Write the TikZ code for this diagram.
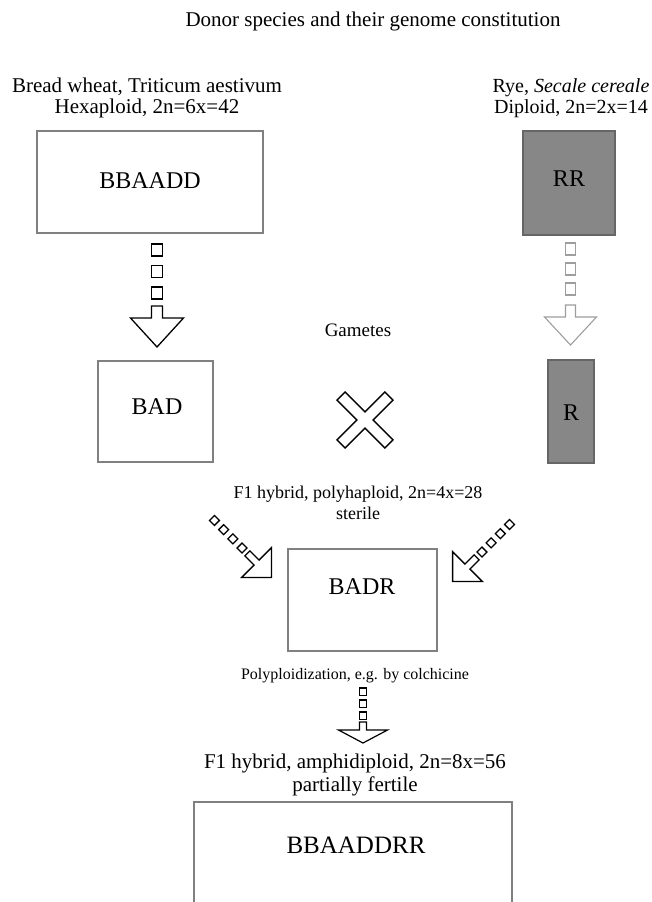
\documentclass[tikz,border=0pt]{standalone}
\usepackage{fontspec}
\setmainfont{Liberation Serif}

% Block arrow with a dotted (square-chain) tail, drawn along local +y from the origin.
% #1 number of squares, #2 square width, #3 square height, #4 square pitch,
% #5 shaft top, #6 head base, #7 tip, #8 head half-width
\newcommand\chainarrow[8]{%
  \foreach \k in {1,...,#1}{%
    \draw ({-#2/2},{(\k-1)*#4}) rectangle ({#2/2},{(\k-1)*#4+#3});
  }
  \draw ({-#2/2},#5) -- ({#2/2},#5) -- ({#2/2},#6) -- (#8,#6) -- (0,#7)
        -- (-#8,#6) -- ({-#2/2},#6) -- cycle;
}

\begin{document}
\begin{tikzpicture}[x=1pt,y=-1pt,
  genbox/.style={draw=black!50, line width=1.1pt, inner sep=0pt},
  graybox/.style={genbox, draw=black!60, fill=black!47},
  txt/.style={inner sep=0pt, anchor=base, align=center, font=\fontsize{#1}{#1}\selectfont},
  arrowline/.style={line width=1.3pt, draw=black, line join=miter},
  palearrow/.style={line width=1.1pt, draw=black!38, line join=miter}]

\useasboundingbox (0,0) rectangle (652,902);
\fill[white] (0,0) rectangle (652,902);
\clip (0,0) rectangle (652,902);

% heading
\node[txt=21] (title) at (373,27) {Donor species and their genome constitution};

% donor species (two-line nodes sit on the baseline of their last line)
\node[txt=21] (wheatname) at (147,113) {Bread wheat, Triticum aestivum\\Hexaploid, 2n=6x=42};
\node[txt=20, font=\fontsize{20}{21}\selectfont] (ryename) at (571,113) {Rye, \textit{Secale cereale}\\Diploid, 2n=2x=14};

\node[genbox, minimum width=226pt, minimum height=102pt] (wheat) at (150,182) {};
\node[txt=24] (wheatlbl) at (150,188) {BBAADD};
\node[graybox, minimum width=92pt, minimum height=104pt] (rye) at (569,183) {};
\node[txt=24] (ryelbl) at (569,186) {RR};

% gamete arrows
\coordinate (ga) at (157,244);
\coordinate (gb) at (570.5,243);
\begin{scope}[shift={(ga)}, arrowline]
  \chainarrow{3}{11}{12}{21.5}{62}{74}{103}{26.5}
\end{scope}
\begin{scope}[shift={(gb)}, palearrow]
  \chainarrow{3}{10}{12}{20}{62}{74}{102}{26}
\end{scope}

\node[txt=19] (gametes) at (358,336) {Gametes};

% gametes
\node[genbox, minimum width=115pt, minimum height=101pt] (bad) at (155.5,411.5) {};
\node[txt=24] (badlbl) at (157,414) {BAD};
\node[graybox, minimum width=46pt, minimum height=103pt] (r) at (571,411.5) {};
\node[txt=24] (rlbl) at (571,420) {R};

% crossing sign
\coordinate (cross) at (365,420);
\draw[arrowline, line width=1.4pt, shift={(cross)}]
  (0,-8.06) -- (19.94,-28) -- (28,-19.94) -- (8.06,0) -- (28,19.94) -- (19.94,28)
  -- (0,8.06) -- (-19.94,28) -- (-28,19.94) -- (-8.06,0) -- (-28,-19.94)
  -- (-19.94,-28) -- cycle;

% F1 hybrid
\node[txt=18, font=\fontsize{18}{21}\selectfont] (f1a) at (358,519) {F1 hybrid, polyhaploid, 2n=4x=28\\sterile};

\coordinate (da) at (212,518);
\coordinate (db) at (512,522);
\begin{scope}[shift={(da)}, rotate=45, arrowline]
  \chainarrow{4}{7}{7}{13}{50}{63}{84}{21}
\end{scope}
\begin{scope}[shift={(db)}, rotate=-45, arrowline]
  \chainarrow{4}{7}{7}{13}{50}{63}{84}{21}
\end{scope}

\node[genbox, minimum width=149pt, minimum height=102pt] (badr) at (362.5,600) {};
\node[txt=24] (badrlbl) at (362,594) {BADR};

% chromosome doubling
\node[txt=16] (poly) at (355,679) {Polyploidization, e.g. by colchicine};
\coordinate (pa) at (363,688);
\begin{scope}[shift={(pa)}, arrowline, line width=1.2pt]
  \chainarrow{3}{7}{7.5}{12}{34}{42}{55}{24.5}
\end{scope}

% amphidiploid
\node[txt=21, font=\fontsize{21}{23}\selectfont] (f1b) at (355,791) {F1 hybrid, amphidiploid, 2n=8x=56\\partially fertile};
\node[genbox, minimum width=318pt, minimum height=130pt] (amph) at (353,867) {};
\node[txt=25] (amphlbl) at (356,853) {BBAADDRR};

\end{tikzpicture}
\end{document}
